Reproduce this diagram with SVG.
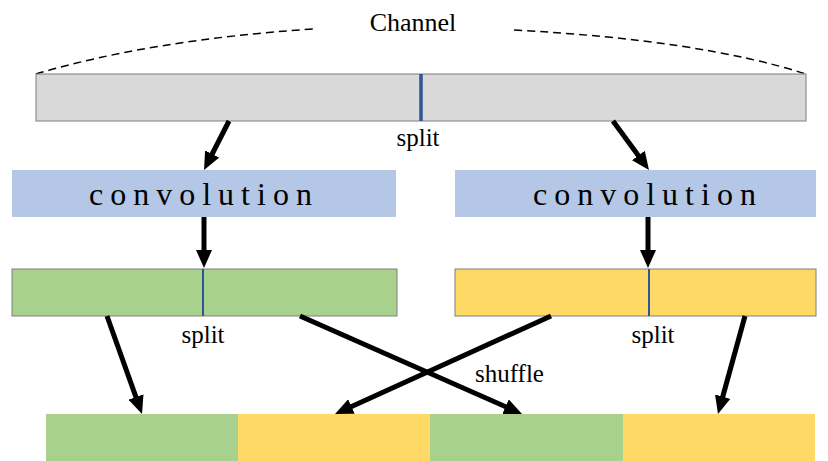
<svg xmlns="http://www.w3.org/2000/svg" width="828" height="461" viewBox="0 0 828 461">
  <style>
    .bar { stroke: #7f7f7f; stroke-width: 1; }
    .grey { fill: #d9d9d9; }
    .green { fill: #a9d18e; }
    .yellow { fill: #ffd966; }
    .conv { fill: #b4c7e7; }
    .lbl { font-family: "Liberation Serif", "Times New Roman", serif; fill: #000; }
    .small { font-size: 25px; }
    .big { font-size: 32px; letter-spacing: 7px; }
    .arrow { stroke: #000; stroke-width: 5; fill: none; marker-end: url(#head); }
    .dash { stroke: #000; stroke-width: 1.5; fill: none; stroke-dasharray: 8 5; }
    .cut { stroke: #2f5597; }
  </style>
  <defs>
    <marker id="head" markerUnits="userSpaceOnUse" markerWidth="18" markerHeight="16" refX="4" refY="8" orient="auto">
      <path d="M0,0 L18,8 L0,16 z" fill="#000"/>
    </marker>
  </defs>

  <!-- input channel bar -->
  <g id="channel">
    <path class="dash" d="M36,74 Q150,40 313,29"/>
    <path class="dash" d="M514,30 Q700,40 806,74"/>
    <text class="lbl" x="413" y="31" font-size="26" text-anchor="middle">Channel</text>
    <rect class="bar grey" x="36" y="74" width="770" height="47"/>
    <line class="cut" x1="421" y1="74" x2="421" y2="121" stroke-width="3.5"/>
    <text class="lbl small" x="418" y="146" text-anchor="middle">split</text>
  </g>

  <!-- convolution blocks -->
  <g id="conv-left">
    <rect class="conv" x="12" y="170" width="384" height="47"/>
    <text class="lbl big" x="89" y="205">convolution</text>
  </g>
  <g id="conv-right">
    <rect class="conv" x="455" y="170" width="361" height="47"/>
    <text class="lbl big" x="533" y="205">convolution</text>
  </g>

  <!-- branch outputs -->
  <g id="out-left">
    <rect class="bar green" x="12" y="269" width="385" height="47"/>
    <line class="cut" x1="203" y1="269" x2="203" y2="316" stroke-width="2"/>
    <text class="lbl small" x="203" y="343" text-anchor="middle">split</text>
  </g>
  <g id="out-right">
    <rect class="bar yellow" x="455" y="269" width="361" height="47"/>
    <line class="cut" x1="649" y1="269" x2="649" y2="316" stroke-width="2"/>
    <text class="lbl small" x="653" y="343" text-anchor="middle">split</text>
  </g>

  <!-- shuffled result -->
  <g id="result">
    <rect class="green" x="46" y="414" width="192" height="47"/>
    <rect class="yellow" x="238" y="414" width="192" height="47"/>
    <rect class="green" x="430" y="414" width="193" height="47"/>
    <rect class="yellow" x="623" y="414" width="192" height="47"/>
  </g>

  <text class="lbl small" x="475" y="382">shuffle</text>

  <!-- connectors -->
  <g id="connectors">
    <line class="arrow" x1="229" y1="121" x2="210.4" y2="157.5"/>
    <line class="arrow" x1="613" y1="121" x2="640.7" y2="158.7"/>
    <line class="arrow" x1="204" y1="217" x2="204" y2="254"/>
    <line class="arrow" x1="648" y1="217" x2="648" y2="254"/>
    <line class="arrow" x1="107" y1="316" x2="137.3" y2="400.8"/>
    <line class="arrow" x1="300" y1="316" x2="509.2" y2="408.3"/>
    <line class="arrow" x1="551" y1="316" x2="347.8" y2="408.2"/>
    <line class="arrow" x1="745" y1="316" x2="721.7" y2="400.5"/>
  </g>
</svg>
